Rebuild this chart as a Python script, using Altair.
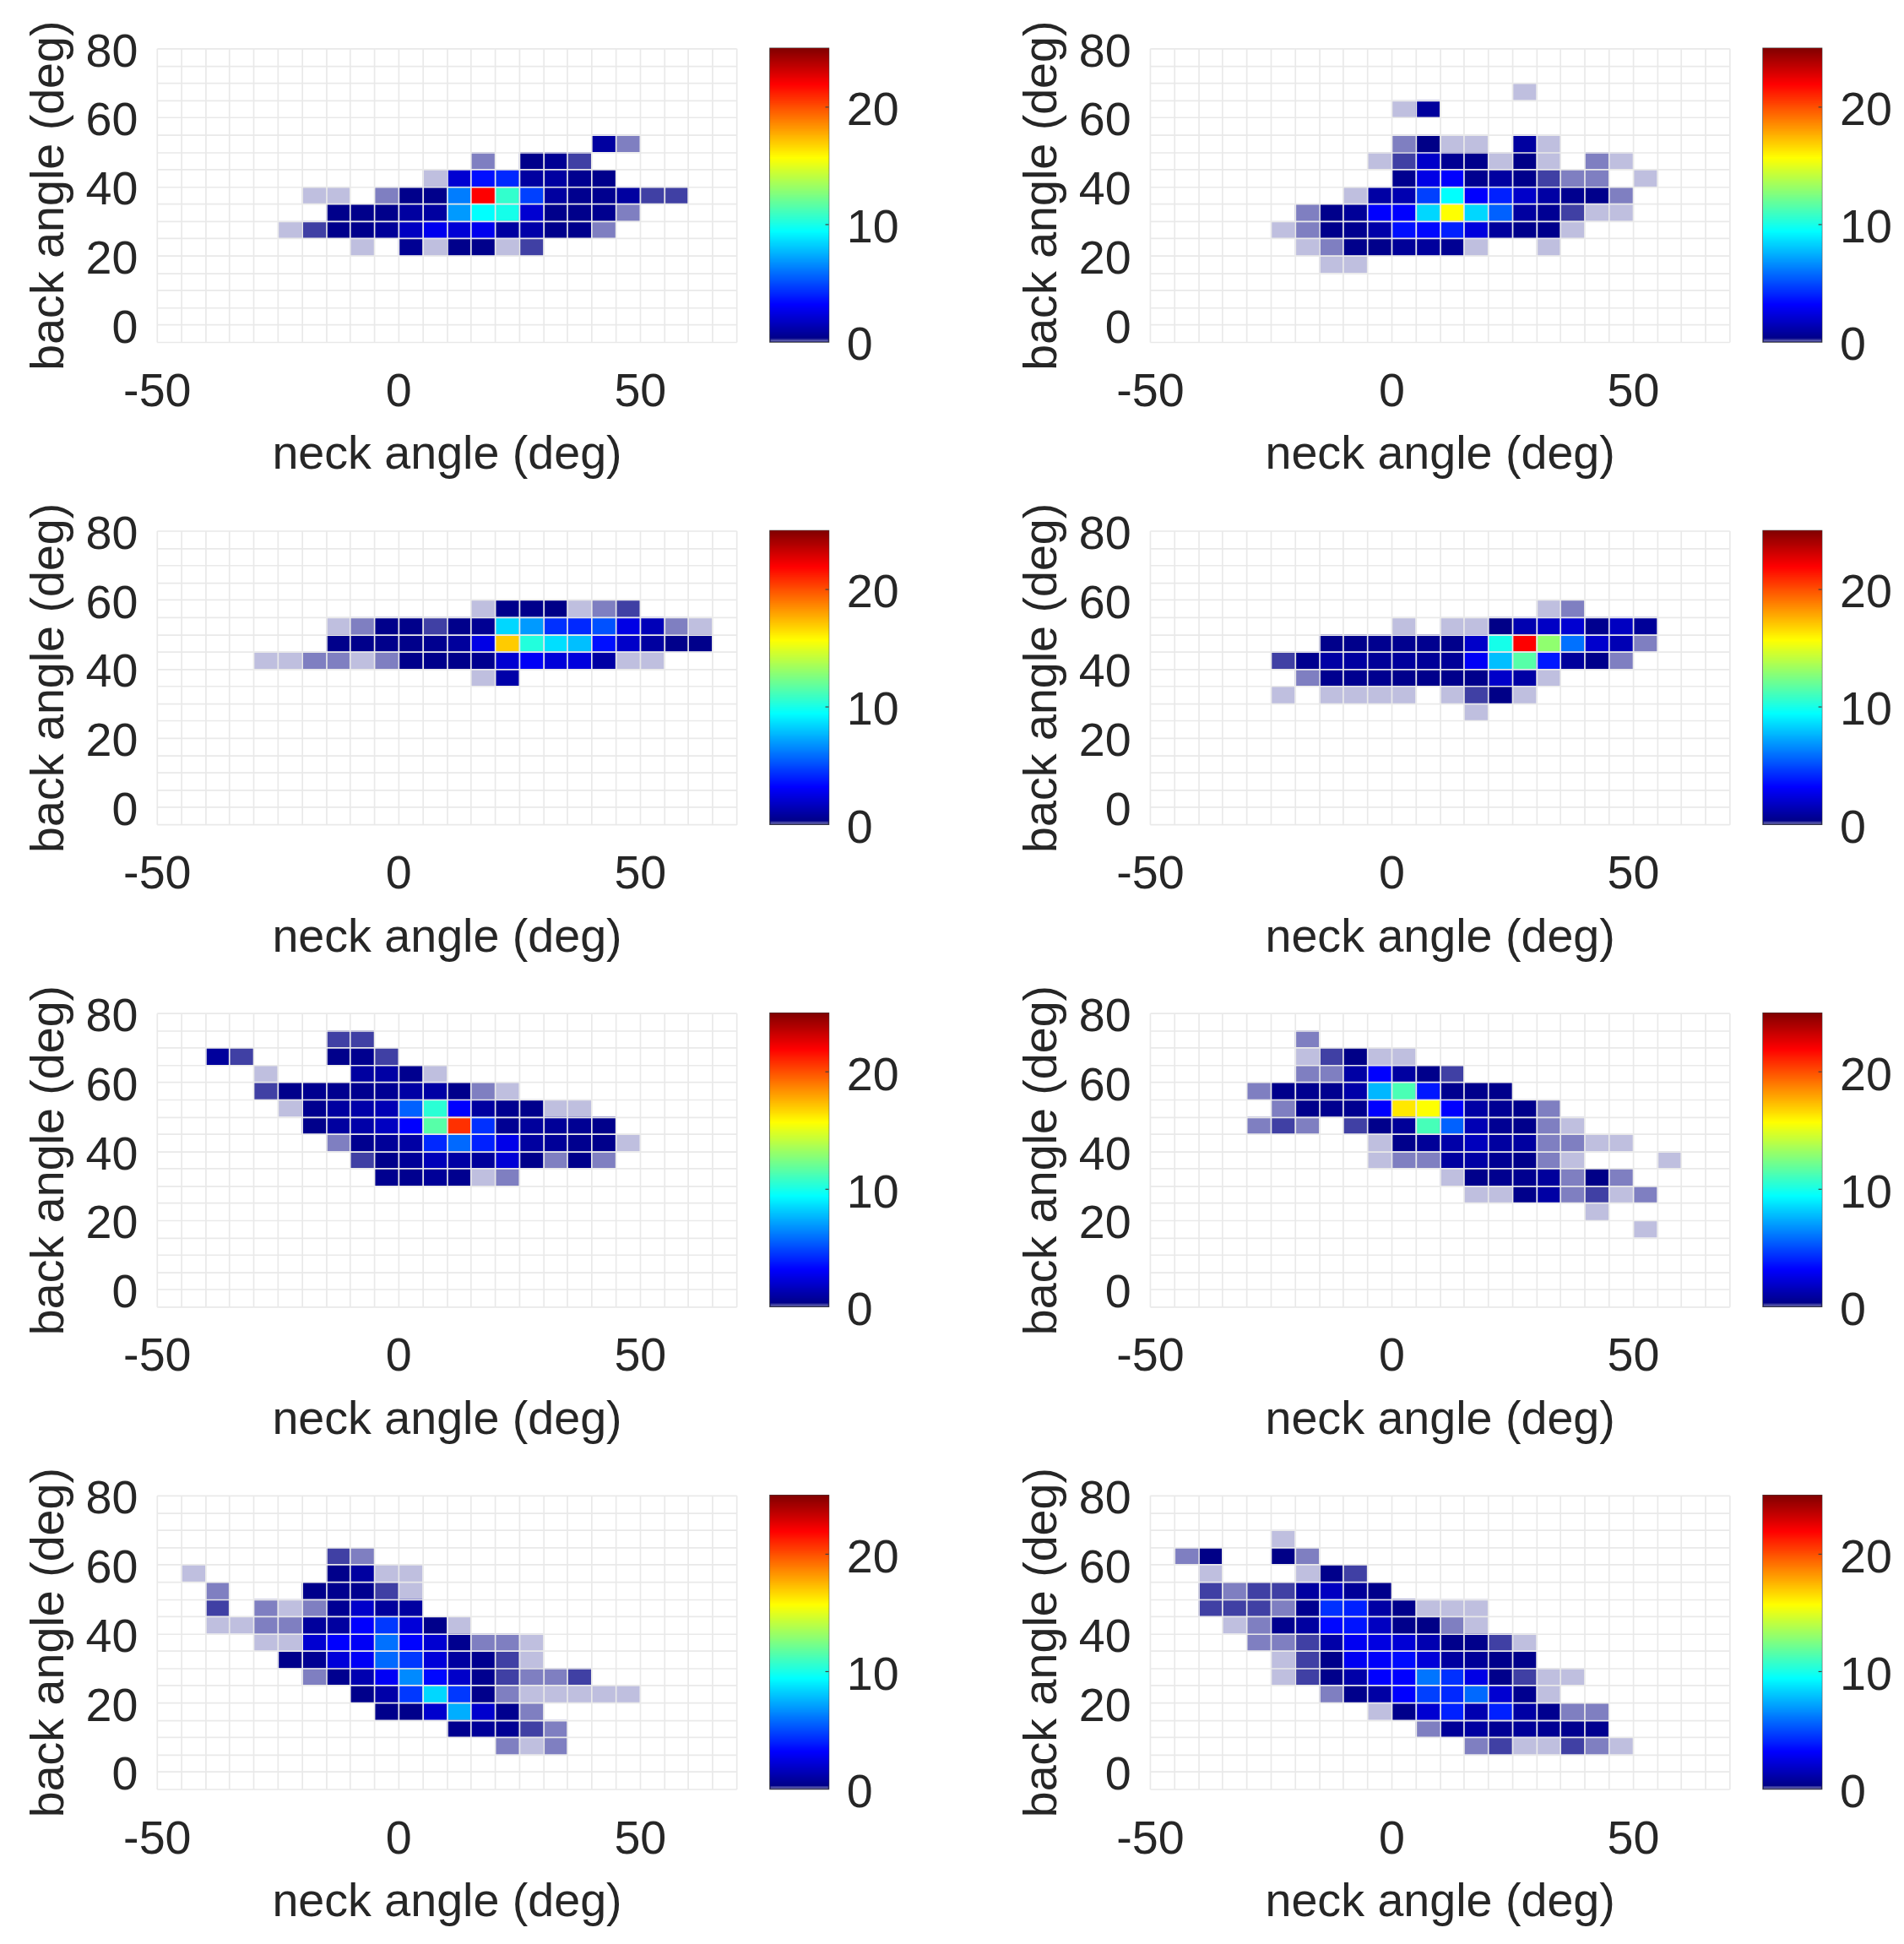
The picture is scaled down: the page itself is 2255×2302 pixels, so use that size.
import altair as alt
import numpy as np
import pandas as pd

# cell levels: very few samples are drawn faded
L, M, D = 0.05, 0.10, 0.15

# each row: (row index from the top of the grid, first column index, values; 0 = empty cell)
panel_1 = [
    (5, 18, [.8, M]),
    (6, 13, [M, 0, .3, .5, D]),
    (7, 11, [L, 2, 3.5, 4.1, .8, .8, .4, .3]),
    (8, 6, [L, L, 0, M, .3, .3, 6.2, 21.9, 10.6, 4.7, .8, .4, .4, .8, D, D]),
    (9, 7, [.3, .3, .3, .8, .8, 6.9, 9.4, 9.9, 2, .3, .3, .4, M]),
    (10, 5, [L, D, .3, .3, .6, 1.6, 2.7, 2.1, 2.7, .8, 1, .3, .3, M]),
    (11, 8, [L, 0, .5, L, .3, .3, L, D]),
]
panel_2 = [
    (2, 15, [L]),
    (3, 10, [L, .7]),
    (5, 10, [M, .2, L, L, 0, .8, L]),
    (6, 9, [L, D, 1.8, .5, .3, L, .2, L, 0, M, L]),
    (7, 10, [.4, 2.5, 3.1, .4, .8, .3, D, M, M, 0, L]),
    (8, 8, [L, .9, 1.2, 4.7, 9.4, 3.1, 3.9, 1.8, .9, .4, .3, M]),
    (9, 6, [M, .3, .6, 3.1, 3.1, 8.4, 15.6, 8.4, 5.5, .8, .5, D, L, L]),
    (10, 5, [L, M, .3, .4, 1, 3.5, 3.3, 3.9, 2.3, .7, .3, .3, L]),
    (11, 6, [L, M, .3, .3, .6, .7, .5, L, 0, 0, L]),
    (12, 7, [L, L]),
]
panel_3 = [
    (4, 13, [L, .3, .3, .2, L, M, D]),
    (5, 7, [L, M, .3, .3, D, .3, .5, 8.4, 6.9, 4.3, 4.1, 5.1, 2.5, 1.4, M, L]),
    (6, 7, [.3, .3, .3, .3, .4, .7, 2.5, 16.9, 10.2, 8.6, 7.8, 3.5, 1.8, .8, .3, .3]),
    (7, 4, [L, L, M, M, L, M, .3, .3, .3, .4, 2, 2.9, 2.2, 2.3, .9, L, L]),
    (8, 13, [L, 1]),
]
panel_4 = [
    (4, 16, [L, M]),
    (5, 10, [L, 0, L, L, .2, 1.2, 1.7, 2, .4, 1.6, .6]),
    (6, 7, [.3, .3, .4, .4, .4, .3, 1.8, 9.9, 21.9, 12.9, 5.9, 1.9, 1.3, M]),
    (7, 5, [D, .4, .9, .8, .6, .7, .6, .6, 2.9, 7.8, 11.5, 3.7, .7, .3, M]),
    (8, 6, [M, .4, .4, .4, .3, .3, .3, .3, 1.8, .9, L]),
    (9, 5, [L, 0, L, L, L, L, 0, L, D, .2, L]),
    (10, 13, [L]),
]
panel_5 = [
    (1, 7, [D, D]),
    (2, 2, [.7, D, 0, 0, 0, .3, .4, D]),
    (3, 4, [L, 0, 0, 0, .8, .9, .4, L]),
    (4, 4, [D, .3, .4, .4, .4, .5, .9, .9, .3, M, L]),
    (5, 5, [L, .4, .8, 1, 1.3, 5.5, 10.4, 3.1, .8, .4, .3, L, L]),
    (6, 6, [.3, .8, 1, 1.6, 3.1, 11.5, 20.7, 4.3, .5, .7, .6, .5, .3]),
    (7, 7, [M, .4, .6, .9, 4.1, 5.7, 3.9, 2.6, .8, .6, .4, .3, L]),
    (8, 8, [D, .3, .6, 1.4, .9, .7, 2.1, .3, M, .3, M]),
    (9, 9, [.4, .4, .6, .4, L, M]),
]
panel_6 = [
    (1, 6, [M]),
    (2, 6, [L, D, .2, L, L]),
    (3, 6, [M, M, .9, 3.1, .8, .3, D]),
    (4, 4, [M, .3, .4, .4, 1, 7.6, 11.2, 3.7, .4, .3, .3]),
    (5, 5, [M, .3, .4, .4, 3.1, 16.2, 15.6, 3.1, .9, .5, .3, M]),
    (6, 4, [M, D, M, 0, D, .3, .6, 11.1, 5.5, 1.3, .5, .3, M, L]),
    (7, 9, [L, .3, .6, 1, 1.5, .8, .8, M, M, L, L]),
    (8, 9, [L, M, M, .8, .9, .5, .3, M, L, 0, 0, 0, L]),
    (9, 12, [L, .3, .4, .4, .7, M, .2, M]),
    (10, 13, [L, L, .3, .9, M, D, L, M]),
    (11, 18, [L]),
    (12, 20, [L]),
]
panel_7 = [
    (3, 7, [D, M]),
    (4, 1, [L, 0, 0, 0, 0, 0, .3, .8, L, L]),
    (5, 2, [M, 0, 0, 0, .3, .4, .4, D, L]),
    (6, 2, [D, 0, M, L, M, .5, 1.8, .7, .8]),
    (7, 2, [L, L, M, M, .7, .8, 3.1, 4.5, 2.2, .3, L]),
    (8, 4, [L, L, 2, 3.1, 2.9, 5.9, 3.2, 2, .4, M, M, L]),
    (9, 5, [.3, .5, 2.2, 2.9, 5.7, 4.5, 2.2, .8, .4, D, L]),
    (10, 6, [M, .4, 1.2, 2.9, 6.5, 3.3, 1.8, .4, D, M, M, D]),
    (11, 8, [.3, 1, 4.5, 8.4, 4.5, .3, M, L, L, L, L, L]),
    (12, 9, [.3, .3, 1.9, 7.4, 1.9, .4, M]),
    (13, 12, [.4, .6, .5, D, M]),
    (14, 14, [M, L, M]),
]
panel_8 = [
    (2, 5, [L]),
    (3, 1, [M, .2, 0, 0, .2, M]),
    (4, 2, [L, 0, 0, 0, L, .3, D]),
    (5, 2, [D, M, D, D, .8, 1.6, .6, .3]),
    (6, 2, [D, D, D, M, .4, 4.3, 3.9, .9, .3, L, L, L]),
    (7, 3, [L, M, .4, .8, 3.3, 3.6, 1.6, .3, .2, M, L]),
    (8, 4, [M, M, D, 1, 2.8, 2.4, 2.1, 1.2, .3, .3, D, L]),
    (9, 5, [L, D, .3, 2.8, 3, 3.4, 2.2, .8, .6, .3, .3]),
    (10, 5, [L, D, .3, 1, 3.1, 3.1, 6, 4.3, 2.5, .3, D, L, L]),
    (11, 7, [M, .3, .9, 3.1, 4.7, 4.1, 5.7, 2, .4, L]),
    (12, 9, [L, .3, 2, 3.9, 1.2, 3.9, .9, .4, M, M]),
    (13, 11, [M, .6, .8, .5, .6, .5, .4, .4]),
    (14, 13, [M, D, L, L, D, M, L]),
]

bin_deg = 5
x_min, x_max = -50, 70
y_min, y_max = -5, 80
x_ticks = list(range(x_min, x_max + bin_deg, bin_deg))
y_ticks = list(range(y_min, y_max + bin_deg, bin_deg))
jet_stops = [0, 3.125, 9.375, 15.625, 21.875, 25]
jet_colors = ["#00007f", "#0000ff", "#00ffff", "#ffff00", "#ff0000", "#7f0000"]
bar_ticks = [0, 10, 20]

FONT = "Liberation Sans"
INK = "#262626"
SIZE = 56
GRID = "#e9e9e9"

jet = alt.Scale(domain=jet_stops, range=jet_colors, interpolate="rgb", clamp=True)


def cells(rows):
    out = []
    for r, c0, vals in rows:
        for i, v in enumerate(vals):
            if v:
                x = x_min + bin_deg * (c0 + i)
                y = y_max - bin_deg * r
                out.append({"x": x, "x2": x + bin_deg, "y": y, "y2": y - bin_deg, "v": v})
    return pd.DataFrame(out)


def heat(rows):
    return (
        alt.Chart(cells(rows))
        .mark_rect()
        .encode(
            x=alt.X(
                "x:Q",
                scale=alt.Scale(domain=[x_min, x_max], nice=False, zero=False),
                axis=alt.Axis(
                    values=x_ticks, title="neck angle (deg)", ticks=False, domain=False,
                    grid=True, gridColor=GRID, gridWidth=1.7, zindex=1,
                    labelExpr="datum.value % 50 == 0 && datum.value < 60 ? '' + datum.value : ''",
                    labelFont=FONT, labelFontSize=SIZE, labelColor=INK, labelPadding=32,
                    labelOverlap=False, labelFlush=False,
                    titleFont=FONT, titleFontSize=SIZE, titleColor=INK, titleFontWeight="normal",
                    titlePadding=20,
                ),
            ),
            x2="x2:Q",
            y=alt.Y(
                "y:Q",
                scale=alt.Scale(domain=[y_min, y_max], nice=False, zero=False),
                axis=alt.Axis(
                    values=y_ticks, title="back angle (deg)", ticks=False, domain=False,
                    grid=True, gridColor=GRID, gridWidth=1.7, zindex=1,
                    labelExpr="datum.value >= 0 && datum.value % 20 == 0 ? '' + datum.value : ''",
                    labelFont=FONT, labelFontSize=SIZE, labelColor=INK, labelPadding=23,
                    labelOffset=4, labelOverlap=False, labelFlush=False,
                    titleFont=FONT, titleFontSize=SIZE, titleColor=INK, titleFontWeight="normal",
                    titlePadding=15,
                ),
            ),
            y2="y2:Q",
            color=alt.Color("v:Q", scale=jet, legend=None),
            opacity=alt.Opacity(
                "v:Q", scale=alt.Scale(domain=[0, 0.2], range=[0, 1], clamp=True), legend=None
            ),
        )
        .properties(width=691, height=350)
    )


def colorbar():
    levels = np.arange(0, 25, 0.125)
    ramp = pd.DataFrame(
        {"v": levels, "v2": np.minimum(levels + 0.25, 25), "o": np.where(levels < 0.2, 0.55, 1.0)}
    )
    bar = (
        alt.Chart(ramp)
        .mark_rect()
        .encode(
            x=alt.value(0),
            x2=alt.value(70),
            y=alt.Y(
                "v:Q",
                scale=alt.Scale(domain=[0, 25], nice=False),
                axis=alt.Axis(
                    orient="right", values=bar_ticks, title=None, ticks=False, domain=False,
                    grid=False, labelFont=FONT, labelFontSize=SIZE, labelColor=INK,
                    labelPadding=21, labelOffset=4, labelOverlap=False, labelFlush=False,
                ),
            ),
            y2="v2:Q",
            color=alt.Color("v:Q", scale=jet, legend=None),
            opacity=alt.Opacity("o:Q", scale=None, legend=None),
        )
    )
    marks = (
        alt.Chart(pd.DataFrame({"v": bar_ticks[1:]}))
        .mark_rule(color="#404040", strokeWidth=1.2)
        .encode(y="v:Q", x=alt.value(66), x2=alt.value(70))
    )
    return alt.layer(bar, marks).properties(
        width=70, height=350, view=alt.ViewBackground(stroke="#404040", strokeWidth=1.5)
    )


def pair(rows):
    return alt.hconcat(heat(rows), colorbar(), spacing=38)


def row(a, b):
    return alt.hconcat(pair(a), pair(b), spacing=140)


chart = (
    alt.vconcat(
        row(panel_1, panel_2),
        row(panel_3, panel_4),
        row(panel_5, panel_6),
        row(panel_7, panel_8),
        spacing=27,
    )
    .properties(padding={"left": 21, "top": 7, "right": 5, "bottom": 5}, background="white")
    .configure_view(stroke="transparent")
)

chart.save("out.html", embed_options={"renderer": "svg", "actions": False})
